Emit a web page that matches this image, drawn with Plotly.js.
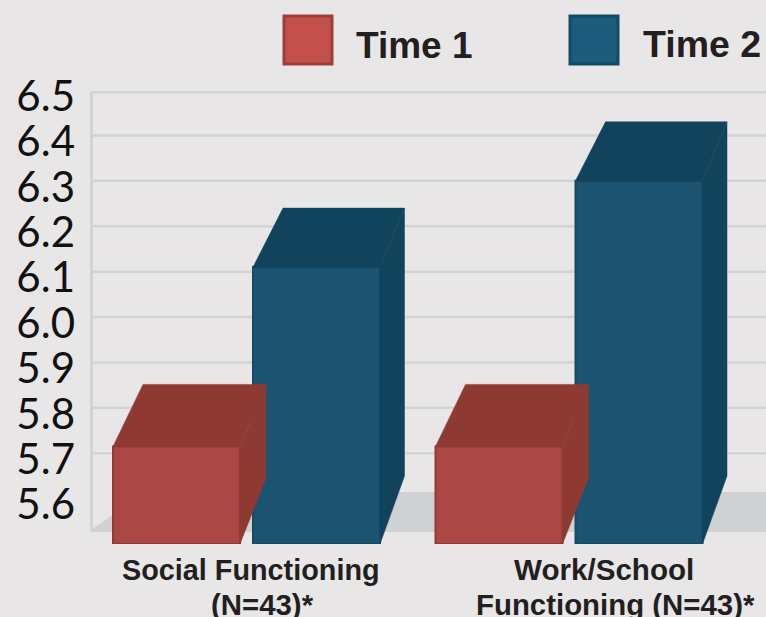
<!DOCTYPE html>
<html>
<head>
<meta charset="utf-8">
<script src="https://cdn.plot.ly/plotly-3.0.1.min.js"></script>
<style>html,body{margin:0;padding:0;background:#e8e6e7;overflow:hidden}</style>
</head>
<body>
<div id="chart" style="width:766px;height:617px"></div>
<script>
const groupPositions = [0, 1];
const time1Values = [5.715, 5.715];
const time2Values = [6.11, 6.3];
const labelLine1 = ["Social Functioning", "Work/School"];
const labelLine2 = ["(N=43)*", "Functioning (N=43)*"];
const tickValues = [5.6, 5.7, 5.8, 5.9, 6.0, 6.1, 6.2, 6.3, 6.4, 6.5];
const tickLabels = ["5.6", "5.7", "5.8", "5.9", "6.0", "6.1", "6.2", "6.3", "6.4", "6.5"];
const gridValues = [5.7, 5.8, 5.9, 6.0, 6.1, 6.2, 6.3, 6.4, 6.495];
const seriesNames = ["Time 1", "Time 2"];

const W = 766, H = 617, L = 90, B = 73, S = 454;
const yMin = 5.5, yMax = 6.52;
const plotH = (yMax - yMin) * S;
const T = H - B - plotH;
const unit = 322.5, origin = 246.5;
const xMin = (L - origin) / unit, xMax = (W - origin) / unit;
const off = 70 / unit, barW = 127 / unit;
const px = x => (x - origin) / unit;
const py = y => yMin + (H - B - y) / S;
const paperX = x => (x - L) / (W - L);
const paperY = y => (H - B - y) / plotH;

const RED = {front:"#ab4845", edge:"#923a35", dark:"#8e3a33", sw:"#c4504b", swEdge:"#9c3f3a",
  shiftL:30/unit, shiftR:26/unit, dTop:62/S, dBase:66/S};
const BLUE = {front:"#1c5370", edge:"#134a66", dark:"#11445c", sw:"#1c5b7c", swEdge:"#134a66",
  shiftL:30/unit, shiftR:24.5/unit, dTop:59/S, dBase:68/S};

function bar(name, xs, ys, c) {
  return {type:"bar", name, x:xs, y:ys.map(v => v - yMin), base:yMin, width:barW,
    marker:{color:c.front, line:{color:c.edge, width:2}}, showlegend:false, hoverinfo:"skip"};
}
function poly(xs, ys, color) {
  return {type:"scatter", mode:"lines", x:xs, y:ys, fill:"toself", fillcolor:color,
    line:{color:color, width:0.5}, showlegend:false, hoverinfo:"skip"};
}
function faces(xc, v, c) {
  const xl = xc - barW/2, xr = xc + barW/2;
  return [
    poly([xl, xl+c.shiftL, xr+c.shiftR, xr, xl], [v, v+c.dTop, v+c.dTop, v, v], c.dark),
    poly([xr, xr+c.shiftR, xr+c.shiftR, xr, xr], [v, v+c.dTop, yMin+c.dBase, yMin, v], c.dark)
  ];
}
const x1 = groupPositions.map(g => g - off);
const x2 = groupPositions.map(g => g + off);
const traces = [bar(seriesNames[1], x2, time2Values, BLUE), bar(seriesNames[0], x1, time1Values, RED)];
groupPositions.forEach((g, i) => {
  traces.push(...faces(x2[i], time2Values[i], BLUE));
  traces.push(...faces(x1[i], time1Values[i], RED));
});

const shapes = gridValues.map(v => ({type:"line", layer:"below", xref:"paper", x0:0.004, x1:1, yref:"y", y0:v, y1:v,
  line:{color:"#d2d4d4", width:2.5}}));
shapes.push({type:"line", layer:"below", xref:"x", x0:px(91.5), x1:px(91.5), yref:"y", y0:py(531), y1:py(91),
  line:{color:"#d2d4d4", width:3}});
shapes.push({type:"path", layer:"below", xref:"x", yref:"y", fillcolor:"#cfd1d2", line:{width:0},
  path:`M ${px(91)} ${py(530)} L ${px(145)} ${py(492)} L ${px(766)} ${py(492)} L ${px(766)} ${py(532)} L ${px(91)} ${py(532)} Z`});
function swatch(x, c) {
  return {type:"rect", xref:"paper", yref:"paper", layer:"above",
    x0:paperX(x), x1:paperX(x+48), y0:paperY(64), y1:paperY(16),
    fillcolor:c.sw, line:{color:c.swEdge, width:3}};
}
shapes.push(swatch(284, RED), swatch(570, BLUE));

const bold = "Liberation Sans, Arial, sans-serif";
function label(text, xPx, yPx, size) {
  return {text, xref:"paper", yref:"paper", x:paperX(xPx), y:paperY(yPx),
    xanchor:"center", yanchor:"middle", showarrow:false,
    font:{family:bold, size, color:"#231f20", weight:700}};
}
const annotations = [
  label(seriesNames[0], 414.5, 45, 37),
  label(seriesNames[1], 701.5, 44, 37.5),
  label(labelLine1[0], 250.5, 570, 28.8),
  label(labelLine2[0], 262, 605, 29.4),
  label(labelLine1[1], 604, 570, 29.6),
  label(labelLine2[1], 615.5, 605, 29.4)
];

Plotly.newPlot("chart", traces, {
  width:W, height:H, autosize:false,
  paper_bgcolor:"#e8e6e7", plot_bgcolor:"#e8e6e7",
  margin:{l:L, r:0, t:T, b:B, pad:0},
  barmode:"overlay",
  xaxis:{range:[xMin, xMax], showgrid:false, zeroline:false, showticklabels:false, ticks:"", showline:false, fixedrange:true},
  yaxis:{range:[yMin, yMax], tickmode:"array", tickvals:tickValues, ticktext:tickLabels, showgrid:false, zeroline:false,
    showline:false, ticks:"", ticklabelstandoff:14, ticklabelshift:6,
    tickfont:{family:"Lato, sans-serif", size:42, color:"#111111"}, fixedrange:true},
  shapes, annotations, showlegend:false
}, {displayModeBar:false, staticPlot:true});
</script>
</body>
</html>
